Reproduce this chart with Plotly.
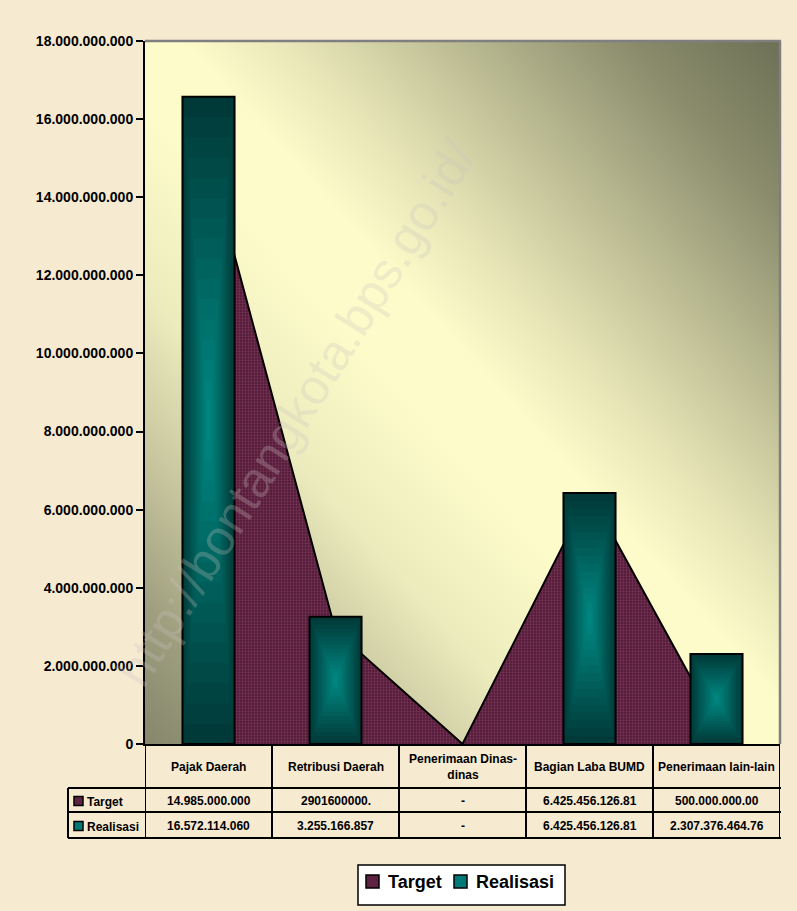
import base64

import plotly.graph_objects as go

# =====================================================
# Data
# =====================================================

CATEGORIES = [
    "Pajak Daerah",
    "Retribusi Daerah",
    "Penerimaan Dinas-<br>dinas",
    "Bagian Laba BUMD",
    "Penerimaan lain-lain",
]
SERIES = ["Target", "Realisasi"]

TARGET = [14985000000, 2901600000, 0, 6425456126.81, 500000000.00]
REALISASI = [16572114060, 3255166857, None, 6425456126.81, 2307376464.76]

TARGET_TEXT = ["14.985.000.000", "2901600000.", "-", "6.425.456.126.81", "500.000.000.00"]
REALISASI_TEXT = ["16.572.114.060", "3.255.166.857", "-", "6.425.456.126.81", "2.307.376.464.76"]

Y_MAX = 18000000000
Y_STEP = 2000000000

WATERMARK = "http://bontangkota.bps.go.id/"

# =====================================================
# Layout constants (pixels)
# =====================================================

W, H = 797, 911
PLOT_L, PLOT_R, PLOT_T, PLOT_B = 145, 780, 41, 744
FONT = "Arial, Liberation Sans, sans-serif"

MAROON = "#5e2342"
TEAL_DARK = (0, 58, 56)
TEAL_LIGHT = (0, 134, 128)
BAR_W = 0.41
LAYERS = 16


def px(p):
    return (p - PLOT_L) / (PLOT_R - PLOT_L)


def py(p):
    return (PLOT_B - p) / (PLOT_B - PLOT_T)


X = list(range(len(CATEGORIES)))

# =====================================================
# Plot area gradient (svg image)
# =====================================================

stops = [
    (0.00, "#6d7055"),
    (0.12, "#8a8c6c"),
    (0.25, "#b9b991"),
    (0.38, "#e6e4b6"),
    (0.47, "#fdfbc9"),
    (0.55, "#fdfbc9"),
    (0.68, "#ecebbd"),
    (0.80, "#c4c39c"),
    (0.90, "#9f9f80"),
    (1.00, "#85866b"),
]
svg = (
    '<svg xmlns="http://www.w3.org/2000/svg" width="100" height="100" '
    'viewBox="0 0 100 100" preserveAspectRatio="none">'
    '<defs><linearGradient id="g" x1="1" y1="0" x2="0" y2="1">'
    + "".join(f'<stop offset="{o}" stop-color="{c}"/>' for o, c in stops)
    + '</linearGradient></defs><rect width="100" height="100" fill="url(#g)"/></svg>'
)
bg_src = "data:image/svg+xml;base64," + base64.b64encode(svg.encode()).decode()

# =====================================================
# Traces
# =====================================================

fig = go.Figure()

fig.add_trace(go.Scatter(
    x=X,
    y=TARGET,
    name=SERIES[0],
    mode="lines",
    fill="tozeroy",
    fillcolor=MAROON,
    fillpattern=dict(shape=".", fgcolor="#a04a74", bgcolor="#4e1a36", size=3, solidity=0.45),
    line=dict(color="black", width=2),
    showlegend=False,
    xaxis="x",
    yaxis="y",
))

# nested bars give the "from center" gradient of the columns
for k in range(LAYERS):
    f = k / LAYERS
    t = k / (LAYERS - 1)
    col = "rgb({},{},{})".format(*[round(a + (b - a) * t) for a, b in zip(TEAL_DARK, TEAL_LIGHT)])
    fig.add_trace(go.Bar(
        x=X,
        y=[v * (1 - f) if v else None for v in REALISASI],
        base=[v * f / 2 if v else None for v in REALISASI],
        width=BAR_W * (1 - f),
        name=SERIES[1],
        marker=dict(color=col, line=dict(color="black", width=2 if k == 0 else 0)),
        showlegend=False,
        hoverinfo="y" if k == 0 else "skip",
        xaxis="x2",
        yaxis="y2",
    ))

# =====================================================
# Data table, legend, borders
# =====================================================

shapes = []
annotations = []
LINE = dict(color="black", width=2)


def label(x, y, text, size=12, xref="paper", xanchor="center", weight="bold"):
    annotations.append(dict(x=x, y=y, xref=xref, yref="paper", text=text, showarrow=False,
                            xanchor=xanchor, yanchor="middle",
                            font=dict(family=FONT, size=size, color="black", weight=weight)))


# plot area border (top / right)
shapes.append(dict(type="line", xref="paper", yref="paper", x0=0, x1=px(781), y0=1, y1=1,
                   line=dict(color="#7f7f7f", width=2.5)))
shapes.append(dict(type="line", xref="paper", yref="paper", x0=px(780), x1=px(780), y0=0, y1=1,
                   line=dict(color="#7f7f7f", width=2.5)))

ROW_Y = [744, 788, 812, 838]
for yy in ROW_Y[1:]:
    shapes.append(dict(type="line", xref="paper", yref="paper", x0=px(68), x1=px(781),
                       y0=py(yy), y1=py(yy), line=LINE))
for i in range(len(CATEGORIES) + 1):
    shapes.append(dict(type="line", xref="x", yref="paper", x0=i - 0.5, x1=i - 0.5,
                       y0=py(744), y1=py(838), line=LINE))
shapes.append(dict(type="line", xref="paper", yref="paper", x0=px(68), x1=px(68),
                   y0=py(788), y1=py(838), line=LINE))

for i, cat in enumerate(CATEGORIES):
    label(i, py(767), cat, xref="x")
    label(i, py(801), TARGET_TEXT[i], xref="x")
    label(i, py(826), REALISASI_TEXT[i], xref="x")

KEY_COLORS = [MAROON, "#007a76"]
for name, row_c, key_c in zip(SERIES, [801, 826], KEY_COLORS):
    shapes.append(dict(type="rect", xref="paper", yref="paper", x0=px(74), x1=px(83),
                       y0=py(row_c - 4.5), y1=py(row_c + 4.5), fillcolor=key_c,
                       line=dict(color="black", width=1.5)))
    label(px(85), py(row_c + 1), name, xanchor="left")

# legend box
shapes.append(dict(type="rect", xref="paper", yref="paper", x0=px(358), x1=px(565),
                   y0=py(865), y1=py(905), fillcolor="white", line=dict(color="black", width=1.5)))
for name, x0, key_c in zip(SERIES, [366, 454], KEY_COLORS):
    shapes.append(dict(type="rect", xref="paper", yref="paper", x0=px(x0), x1=px(x0 + 13),
                       y0=py(875), y1=py(888), fillcolor=key_c, line=dict(color="black", width=1.5)))
    label(px(x0 + 20), py(882), name, size=18, xanchor="left")

# watermark
annotations.append(dict(x=px(296), y=py(414), xref="paper", yref="paper", text=WATERMARK,
                        showarrow=False, textangle=-58, xanchor="center", yanchor="middle",
                        font=dict(family=FONT, size=50, color="rgba(200,195,190,0.28)")))

# =====================================================
# Layout
# =====================================================

fig.update_layout(
    width=W,
    height=H,
    margin=dict(l=PLOT_L, r=W - PLOT_R, t=PLOT_T, b=H - PLOT_B, pad=0),
    paper_bgcolor="#f6ead1",
    plot_bgcolor="rgba(0,0,0,0)",
    barmode="overlay",
    separators=",.",
    showlegend=False,
    xaxis=dict(range=[-0.5, 4.5], showticklabels=False, showgrid=False, zeroline=False,
               showline=True, linecolor="black", linewidth=2, ticks="", fixedrange=True),
    yaxis=dict(range=[0, Y_MAX], dtick=Y_STEP, tickformat=",d", showgrid=False, zeroline=False,
               showline=True, linecolor="black", linewidth=2, ticks="outside", ticklen=7,
               tickwidth=2, tickcolor="black", automargin=False, fixedrange=True,
               tickfont=dict(family=FONT, size=14, color="black", weight="bold")),
    xaxis2=dict(range=[-0.5, 4.5], overlaying="x", visible=False, fixedrange=True),
    yaxis2=dict(range=[0, Y_MAX], overlaying="y", visible=False, fixedrange=True),
    images=[dict(source=bg_src, xref="paper", yref="paper", x=0, y=1, sizex=1, sizey=1,
                 sizing="stretch", layer="below", xanchor="left", yanchor="top")],
    shapes=shapes,
    annotations=annotations,
)

fig.write_html(
    "out.html",
    config={"displayModeBar": False},
    post_script="document.body.style.margin = '0px';",
)
